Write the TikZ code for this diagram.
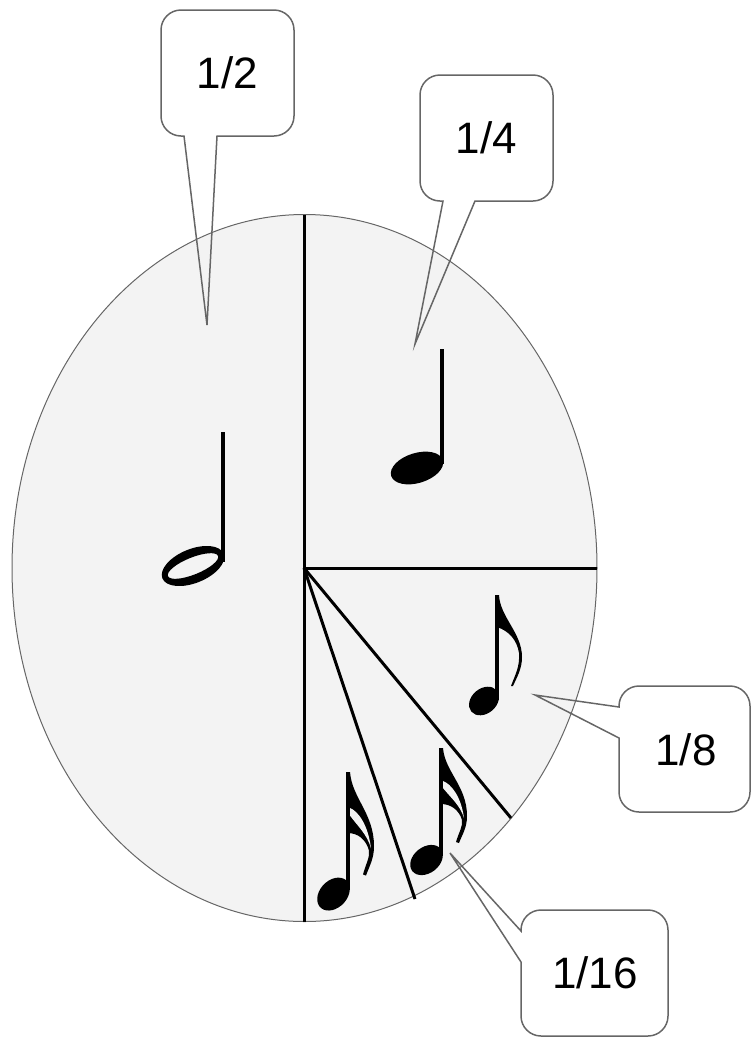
\documentclass[tikz,border=0pt]{standalone}
\usepackage{fontspec}
\setmainfont{Liberation Sans}
\definecolor{wedgegray}{HTML}{F3F3F3}
\definecolor{edgegray}{HTML}{666666}
\tikzset{
	divider/.style={line width=3pt, black},
	callout/.style={line width=1.5pt, edgegray, line join=miter},
	fraction/.style={font=\fontsize{44}{44}\selectfont, black, inner sep=0pt},
	stem/.style={line width=4pt, black},
}
% note parts, measured from the top of the stem
\newcommand{\eighthnote}[1]{
	\begin{scope}[shift={(#1)}]
		\draw[stem] (0,0) -- (0,105);
		\fill[black] (-2,0) -- (2,0) .. controls (3,22) and (25,38) .. (25,62) .. controls (25,74) and (20,82) .. (16,91) -- (14,91) .. controls (18,80) and (23,72) .. (22,58) .. controls (20,45) and (12,36) .. (0,32) -- cycle;
		\fill[black, rotate around={40:(-13,106)}] (-13,106) ellipse (16.5 and 12.5);
	\end{scope}
}
\newcommand{\sixteenthnote}[2]{
	\begin{scope}[shift={(#1)}, yscale=#2]
		\draw[stem] (0,0) -- (0,108);
		\fill[black] (-2,0) -- (2,0) .. controls (4,24) and (26,38) .. (26,68) .. controls (26,80) and (21,87) .. (18,95) -- (15,94) .. controls (18,84) and (22,78) .. (21,72) .. controls (18,62) and (10,56) .. (0,56) -- cycle;
		\fill[wedgegray] (2,33) .. controls (10,36) and (20,48) .. (23,70) .. controls (19,57) and (10,50) .. (2,40) -- cycle;
		\fill[black, rotate around={38:(-14.5,112)}] (-14.5,112) ellipse (18 and 13);
	\end{scope}
}

\begin{document}
\begin{tikzpicture}[x=1pt, y=-1pt]
	\useasboundingbox (0,0) rectangle (751,1037);
	% the wheel
	\coordinate (centre) at (304,568);
	\draw[fill=wedgegray, draw=edgegray, line width=1pt] (centre) ++(0.5,0) ellipse (292.5 and 353.5);
	\coordinate (top) at (304,215);
	\coordinate (bottom) at (304,922);
	\coordinate (right) at (597,568);
	\coordinate (rimeighth) at (511,818);
	\coordinate (rimsixteenth) at (415,899);
	\draw[divider] (top) -- (bottom);
	\draw[divider] (centre) -- (right);
	\draw[divider] (centre) -- (rimeighth);
	\draw[divider] (centre) -- (rimsixteenth);
	% half note
	\draw[stem] (223,432) -- (223,562);
	\fill[black, even odd rule, rotate around={22:(193,566)}] (193,566) ellipse (33 and 17) (193,566) ellipse (27 and 8.5);
	% quarter note
	\draw[stem] (442,349) -- (442,464);
	\fill[black, rotate around={17:(417,468)}] (417,468) ellipse (27 and 15);
	% shorter notes
	\eighthnote{497,595}
	\sixteenthnote{441,748}{1}
	\sixteenthnote{348,772}{1.09}
	% callouts
	\draw[callout] (184,136) [rounded corners=20pt] -- (161,136) -- (161,10) -- (294,10) -- (294,136) -- (240,136) [sharp corners] -- (217,136) -- (207,325) -- cycle;
	\draw[callout] (443,201) [rounded corners=20pt] -- (420,201) -- (420,75) -- (553,75) -- (553,201) -- (500,201) [sharp corners] -- (475,201) -- (415,344) -- cycle;
	\draw[callout] (619,707) [rounded corners=20pt] -- (619,686) -- (750,686) -- (750,812) -- (619,812) -- (619,760) [sharp corners] -- (619,738) -- (535,695) -- cycle;
	\draw[callout] (521,931) [rounded corners=20pt] -- (521,910) -- (668,910) -- (668,1036) -- (521,1036) -- (521,985) [sharp corners] -- (521,962) -- (450,853) -- cycle;
	\node[fraction] (half) at (227.5,73) {1/2};
	\node[fraction] (quarter) at (486.5,138) {1/4};
	\node[fraction] (eighth) at (686,750) {1/8};
	\node[fraction] (sixteenth) at (595,973) {1/16};
\end{tikzpicture}
\end{document}
